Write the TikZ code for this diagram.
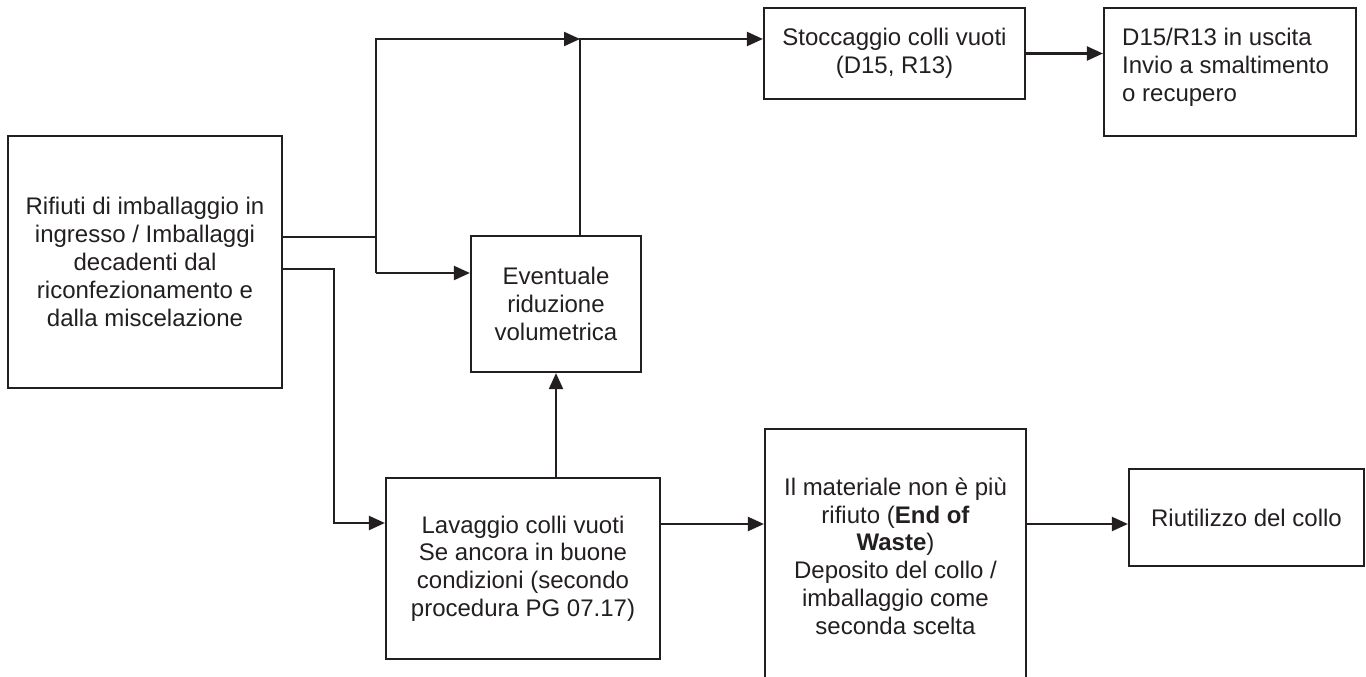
\documentclass[tikz,border=0pt]{standalone}
\usepackage{fontspec}
\setmainfont{Liberation Sans}
\usetikzlibrary{arrows.meta}
\definecolor{ink}{RGB}{35,31,32}
\begin{document}
\begin{tikzpicture}[x=1pt,y=-1pt,
  box/.style={draw=ink, line width=2.2pt, inner sep=0pt, align=center, text=ink,
    font=\fontsize{24}{27.8}\selectfont},
  txt/.style={inner sep=0pt, text=ink, font=\fontsize{24}{27.8}\selectfont},
  wire/.style={draw=ink, line width=2.2pt},
  arr/.style={wire, -{Triangle[length=16pt,width=14pt]}}]
\useasboundingbox (0,0) rectangle (1366,677);

\node[box, minimum width=274pt, minimum height=252pt] (A) at (145,262)
  {Rifiuti di imballaggio in\\ingresso / Imballaggi\\decadenti dal\\riconfezionamento e\\dalla miscelazione};
\node[box, minimum width=170pt, minimum height=136pt] (B) at (556,304)
  {Eventuale\\riduzione\\volumetrica};
\node[box, minimum width=261pt, minimum height=91pt] (C) at (894.5,53.5)
  {Stoccaggio colli vuoti\\(D15, R13)};
\node[box, minimum width=252pt, minimum height=128pt] (D) at (1230,72) {};
\node[txt, anchor=north west, align=left] (Dt) at (1122,28)
  {D15/R13 in uscita\\Invio a smaltimento\\o recupero};
\node[box, minimum width=274pt, minimum height=181pt] (E) at (523,568.5)
  {Lavaggio colli vuoti\\Se ancora in buone\\condizioni (secondo\\procedura PG 07.17)};
\node[box, minimum width=261pt, minimum height=254pt] (F) at (895.5,556)
  {Il materiale non è più\\rifiuto (\textbf{End of}\\\textbf{Waste})\\Deposito del collo /\\imballaggio come\\seconda scelta};
\node[box, minimum width=235pt, minimum height=97pt] (G) at (1246.5,517.5)
  {Riutilizzo del collo};

\coordinate (b1) at (376,237);
\coordinate (t1) at (376,39);
\coordinate (m1) at (580,39);
\coordinate (b2) at (376,273);
\coordinate (c1) at (334,269);
\coordinate (c2) at (334,523);
\coordinate (r) at (0,524);

\draw[wire] (A.east |- b1) -- (b1) -- (b2);
\draw[arr] (b1) -- (t1) -- (m1);
\draw[arr] (b2) -- (B.west |- b2);
\draw[arr] (m1 |- B.north) -- (m1) -- (C.west |- m1);
\draw[arr] (C.east) -- (C.east -| D.west);
\draw[arr] (A.east |- c1) -- (c1) -- (c2) -- (E.west |- c2);
\draw[arr] (E.north -| B.south) -- (B.south);
\draw[arr] (E.east |- r) -- (F.west |- r);
\draw[arr] (F.east |- r) -- (G.west |- r);
\end{tikzpicture}
\end{document}
